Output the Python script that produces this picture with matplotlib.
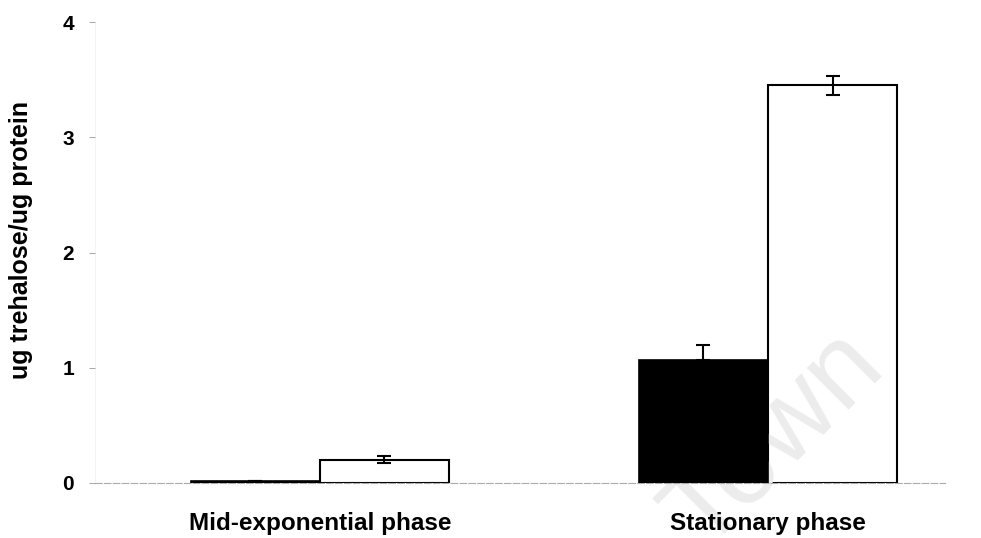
import numpy as np
import matplotlib
matplotlib.use("Agg")
import matplotlib.pyplot as plt

# Data
categories = ["Mid-exponential phase", "Stationary phase"]
black_vals = [0.02, 1.07]
black_err = [0.0, 0.13]
white_vals = [0.20, 3.45]
white_err = [0.03, 0.085]
yticks = [0, 1, 2, 3, 4]

plt.rcParams['font.family'] = ['Liberation Sans', 'DejaVu Sans']
plt.rcParams['font.weight'] = 'bold'

fig = plt.figure(figsize=(9.81, 5.38), dpi=100)
ax = fig.add_axes([95 / 981, 55 / 538, 850 / 981, 461 / 538])
ax.set_axisbelow(False)  # tick labels above the watermark

x = np.arange(len(categories))
w = 0.288

ax.bar(x + w / 2, white_vals, w, color="white", edgecolor="black", linewidth=1.5, zorder=2)

# faint watermark, over the white bars but under the black ones
ax.text(775 / 981, 1 - 440 / 538, "Town", transform=fig.transFigure, fontsize=80,
        color="#ececec", rotation=45, ha="center", va="center", zorder=2.2,
        fontweight="normal", clip_on=False)

ax.bar(x - w / 2, black_vals, w, color="black", edgecolor="black", linewidth=1.2, zorder=3)
ax.errorbar(x - w / 2, black_vals, yerr=[[0, 0], black_err], fmt="none",
            ecolor="black", elinewidth=1.5, capsize=5, capthick=1.5, zorder=4)
ax.errorbar(x + w / 2, white_vals, yerr=white_err, fmt="none",
            ecolor="black", elinewidth=1.5, capsize=5, capthick=1.5, zorder=4)

ax.set_xlim(-0.502, 1.395)
ax.set_ylim(0, 4)
ax.set_yticks(yticks)
ax.set_yticklabels([str(t) for t in yticks], fontsize=15, fontweight="bold")
ax.set_xticks(x)
ax.set_xticklabels(categories, fontsize=17.5, fontweight="bold")
ax.tick_params(axis="x", length=0, pad=21)
ax.tick_params(axis="y", length=4, width=0.6, color="#999999", pad=11)
ax.set_ylabel("ug trehalose/ug protein", fontsize=18, fontweight="bold")
ax.yaxis.set_label_coords(-0.073, 0.527)

ax.patch.set_alpha(0)
for s in ["top", "right"]:
    ax.spines[s].set_visible(False)
ax.spines["left"].set_color("#eeeeee")
ax.spines["left"].set_linewidth(0.5)
ax.spines["bottom"].set_color("#aaaaaa")
ax.spines["bottom"].set_linewidth(0.8)
ax.spines["bottom"].set_linestyle((0, (6, 2)))

fig.savefig("out.png", dpi=100)
